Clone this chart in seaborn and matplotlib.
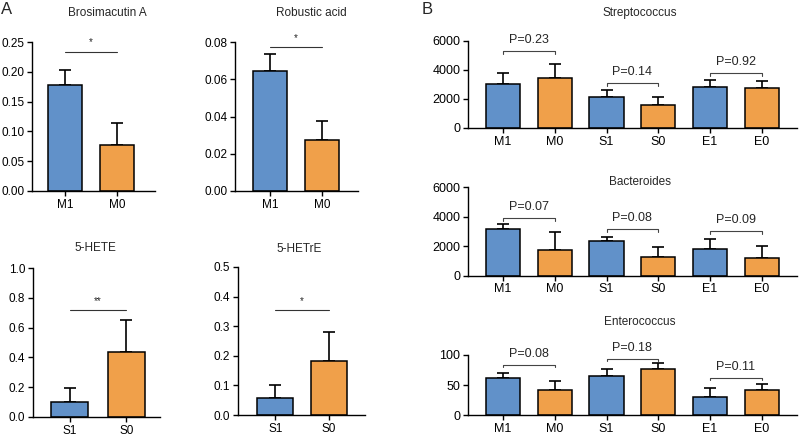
import numpy as np
import matplotlib
matplotlib.use("Agg")
import matplotlib.pyplot as plt
import seaborn as sns

# ---- data ----
m_groups = ["M1", "M0"]
s_groups = ["S1", "S0"]

brosim_mean = [0.178, 0.078]
brosim_err = [0.025, 0.036]
brosim_sig = ("*", 0.234)

robustic_mean = [0.0646, 0.0274]
robustic_err = [0.0088, 0.0100]
robustic_sig = ("*", 0.0771)

hete_mean = [0.100, 0.436]
hete_err = [0.092, 0.217]
hete_sig = ("**", 0.716)

hetre_mean = [0.058, 0.182]
hetre_err = [0.044, 0.097]
hetre_sig = ("*", 0.354)

b_groups = ["M1", "M0", "S1", "S0", "E1", "E0"]

strep_mean = [3000, 3420, 2100, 1590, 2790, 2770]
strep_err = [810, 970, 510, 560, 510, 490]
strep_p = ["P=0.23", "P=0.14", "P=0.92"]
strep_bracket = [5310, 3120, 3810]

bact_mean = [3160, 1770, 2360, 1270, 1800, 1200]
bact_err = [360, 1180, 230, 680, 680, 800]
bact_p = ["P=0.07", "P=0.08", "P=0.09"]
bact_bracket = [3910, 3160, 3020]

entero_mean = [61, 42, 65, 77, 30, 42.5]
entero_err = [9.5, 15, 11, 9, 14.5, 10]
entero_p = ["P=0.08", "P=0.18", "P=0.11"]
entero_bracket = [83, 93.5, 62.5]

BLUE = "#6191c9"
ORANGE = "#f0a04a"
TITLE_FS = 8.5

sns.set_style("ticks")
plt.rcParams["font.family"] = ["Liberation Sans", "DejaVu Sans"]
plt.rcParams["font.size"] = 8.5


def bar_panel(ax, groups, mean, err, ymax, yticks, fmt, width=0.66,
              capsize=4.5, fs=8.5):
    pal = [BLUE if g.endswith("1") else ORANGE for g in groups]
    sns.barplot(x=groups, y=mean, hue=groups, palette=pal, legend=False,
                width=width, edgecolor="black", linewidth=1.1, saturation=1,
                errorbar=None, ax=ax, zorder=2)
    ax.errorbar(np.arange(len(groups)), mean, yerr=[np.zeros(len(err)), err],
                fmt="none", ecolor="black", elinewidth=1.2, capsize=capsize,
                capthick=1.2, zorder=1)
    ax.set_ylim(0, ymax)
    ax.set_yticks(yticks)
    ax.set_yticklabels([fmt.format(v) for v in yticks])
    for s in ["top", "right"]:
        ax.spines[s].set_visible(False)
    for s in ["left", "bottom"]:
        ax.spines[s].set_linewidth(1.0)
        ax.spines[s].set_color("black")
    ax.tick_params(axis="both", length=3.5, width=1.0, labelsize=fs,
                   colors="black", pad=2)
    ax.set_xlabel("")
    ax.set_ylabel("")


def sig_line(ax, sig):
    star, y = sig
    ax.plot([0, 1], [y, y], color="#333333", lw=0.8)
    ax.annotate(star, (0.5, y), xytext=(0, 3), textcoords="offset points",
                ha="center", va="bottom", fontsize=7)


def brackets(ax, labels, heights, ymax):
    tick = ymax * 0.035
    for i, (lab, h) in enumerate(zip(labels, heights)):
        x0, x1 = 2 * i, 2 * i + 1
        ax.plot([x0, x0, x1, x1], [h - tick, h, h, h - tick],
                color="#444444", lw=0.8)
        ax.annotate(lab, ((x0 + x1) / 2, h), xytext=(0, 3.5),
                    textcoords="offset points", ha="center", va="bottom",
                    fontsize=9)


fig = plt.figure(figsize=(8, 4.38), dpi=100)

# panel A
ax1 = fig.add_axes([0.040, 0.564, 0.154, 0.340])
bar_panel(ax1, m_groups, brosim_mean, brosim_err, 0.25,
          [0, 0.05, 0.10, 0.15, 0.20, 0.25], "{:.2f}")
ax1.set_xlim(-0.63, 1.73)
sig_line(ax1, brosim_sig)
ax1.text(0.61, 1.195, "Brosimacutin A", transform=ax1.transAxes,
         ha="center", va="center", fontsize=TITLE_FS)

ax2 = fig.add_axes([0.294, 0.564, 0.153, 0.340])
bar_panel(ax2, m_groups, robustic_mean, robustic_err, 0.08,
          [0, 0.02, 0.04, 0.06, 0.08], "{:.2f}")
ax2.set_xlim(-0.68, 1.69)
sig_line(ax2, robustic_sig)
ax2.text(0.62, 1.195, "Robustic acid", transform=ax2.transAxes,
         ha="center", va="center", fontsize=TITLE_FS)

ax3 = fig.add_axes([0.041, 0.048, 0.159, 0.340])
bar_panel(ax3, s_groups, hete_mean, hete_err, 1.0,
          [0, 0.2, 0.4, 0.6, 0.8, 1.0], "{:.1f}")
ax3.set_xlim(-0.65, 1.59)
sig_line(ax3, hete_sig)
ax3.text(0.49, 1.134, "5-HETE", transform=ax3.transAxes,
         ha="center", va="center", fontsize=TITLE_FS)

ax4 = fig.add_axes([0.2975, 0.0525, 0.159, 0.338])
bar_panel(ax4, s_groups, hetre_mean, hetre_err, 0.5,
          [0, 0.1, 0.2, 0.3, 0.4, 0.5], "{:.1f}")
ax4.set_xlim(-0.69, 1.67)
sig_line(ax4, hetre_sig)
ax4.text(0.48, 1.12, "5-HETrE", transform=ax4.transAxes,
         ha="center", va="center", fontsize=TITLE_FS)

# panel B
ax5 = fig.add_axes([0.585, 0.708, 0.411, 0.199])
bar_panel(ax5, b_groups, strep_mean, strep_err, 6000,
          [0, 2000, 4000, 6000], "{:.0f}", capsize=4, fs=9)
ax5.set_xlim(-0.68, 5.68)
brackets(ax5, strep_p, strep_bracket, 6000)
ax5.text(0.523, 1.32, "Streptococcus", transform=ax5.transAxes,
         ha="center", va="center", fontsize=TITLE_FS)

ax6 = fig.add_axes([0.585, 0.371, 0.411, 0.201])
bar_panel(ax6, b_groups, bact_mean, bact_err, 6000,
          [0, 2000, 4000, 6000], "{:.0f}", capsize=4, fs=9)
ax6.set_xlim(-0.68, 5.68)
brackets(ax6, bact_p, bact_bracket, 6000)
ax6.text(0.523, 1.065, "Bacteroides", transform=ax6.transAxes,
         ha="center", va="center", fontsize=TITLE_FS)

ax7 = fig.add_axes([0.585, 0.0525, 0.411, 0.137])
bar_panel(ax7, b_groups, entero_mean, entero_err, 100,
          [0, 50, 100], "{:.0f}", capsize=4, fs=9)
ax7.set_xlim(-0.68, 5.68)
brackets(ax7, entero_p, entero_bracket, 100)
ax7.text(0.523, 1.555, "Enterococcus", transform=ax7.transAxes,
         ha="center", va="center", fontsize=TITLE_FS)

fig.text(7 / 800, 1 - 10 / 438, "A", ha="center", va="center", fontsize=12)
fig.text(427 / 800, 1 - 9 / 438, "B", ha="center", va="center", fontsize=12)

fig.savefig("out.png", dpi=100, facecolor="white")
plt.close(fig)
